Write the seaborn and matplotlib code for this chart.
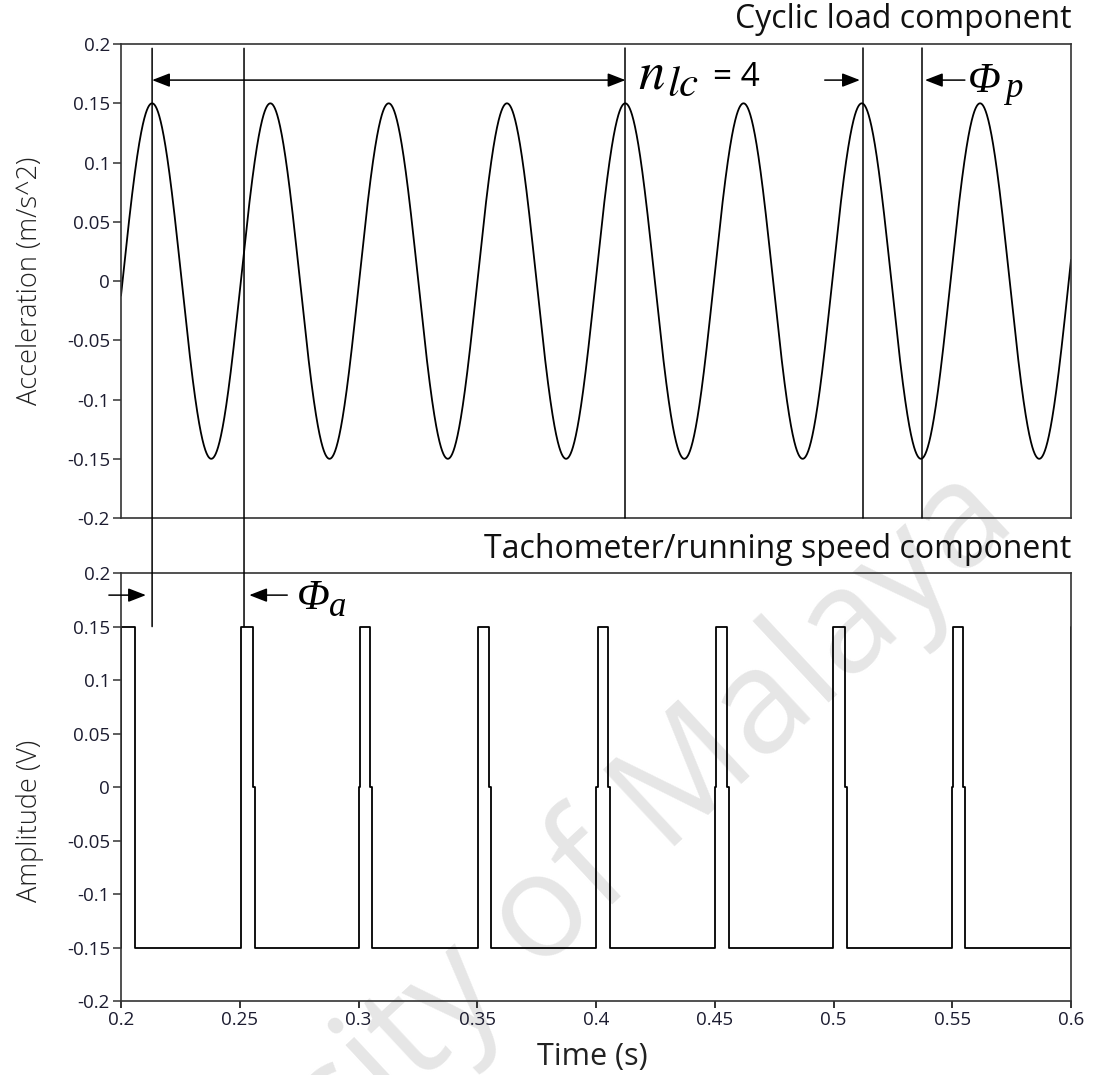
import numpy as np
import matplotlib
matplotlib.use("Agg")
import matplotlib.pyplot as plt
from matplotlib.patches import ConnectionPatch
import seaborn as sns

# ---------------- data ----------------
# Cyclic load component (sinusoid): amplitude, period, time of first peak
load_amplitude = 0.15          # m/s^2
load_period = 0.0498           # s
load_first_peak = 0.2131       # s

# Tachometer pulses (x where the edge steps occur)
pulse_rise_lo = [0.2000, 0.2504, 0.3003, 0.3503, 0.4000, 0.4500, 0.4998, 0.5497, 0.6000]
pulse_rise_hi = [0.2000, 0.2504, 0.3006, 0.3505, 0.4007, 0.4505, 0.4998, 0.5504, 0.6000]
pulse_fall_hi = [0.2058, 0.2555, 0.3050, 0.3550, 0.4051, 0.4550, 0.5047, 0.5546]
pulse_fall_lo = [0.2058, 0.2564, 0.3058, 0.3558, 0.4058, 0.4558, 0.5056, 0.5555]
pulse_low, pulse_mid, pulse_high = -0.15, 0.0, 0.15

# annotation line positions (s)
phase_a_lines = [0.2131, 0.2518]
top_lines = [0.4124, 0.5125, 0.5371]

y_ticks = [0.2, 0.15, 0.1, 0.05, 0, -0.05, -0.1, -0.15, -0.2]
x_ticks = [0.2, 0.25, 0.3, 0.35, 0.4, 0.45, 0.5, 0.55, 0.6]

# ---------------- build series ----------------
t = np.linspace(0.2, 0.6, 4001)
acc = load_amplitude * np.cos(2 * np.pi * (t - load_first_peak) / load_period)

px, py = [], []
for i in range(len(pulse_rise_lo)):
    px += [pulse_rise_lo[i], pulse_rise_lo[i], pulse_rise_hi[i], pulse_rise_hi[i]]
    py += [pulse_low, pulse_mid, pulse_mid, pulse_high]
    if i < len(pulse_fall_hi):
        px += [pulse_fall_hi[i], pulse_fall_hi[i], pulse_fall_lo[i], pulse_fall_lo[i]]
        py += [pulse_high, pulse_mid, pulse_mid, pulse_low]

# ---------------- style ----------------
sns.set_theme(style="white")
plt.rcParams["font.family"] = ["Open Sans", "DejaVu Sans"]
plt.rcParams["mathtext.fontset"] = "stix"
plt.rcParams["axes.unicode_minus"] = False

fig = plt.figure(figsize=(10.93, 10.75), dpi=100)
ax1 = fig.add_axes([0.1107, 0.5181, 0.8692, 0.4409])
ax2 = fig.add_axes([0.1107, 0.0688, 0.8692, 0.3981])

sns.lineplot(x=t, y=acc, ax=ax1, color="black", lw=1.3, estimator=None, sort=False)
sns.lineplot(x=px, y=py, ax=ax2, color="black", lw=1.3, estimator=None, sort=False)

tick_color = "#1c1c30"
for ax in (ax1, ax2):
    ax.set_facecolor("none")
    ax.set_xlim(0.2, 0.6)
    ax.set_ylim(-0.2, 0.2)
    ax.set_yticks(y_ticks)
    ax.set_yticklabels(["{:g}".format(v) for v in y_ticks])
    for s in ax.spines.values():
        s.set_color("#333333")
        s.set_linewidth(1.2)
    ax.tick_params(axis="y", direction="out", length=6, width=1.1, color="#333333",
                   labelsize=13.5, labelcolor=tick_color, pad=2, left=True)
    ax.set_ylabel("")

ax1.set_xticks([])
ax1.set_xlabel("")
ax2.set_xticks(x_ticks)
ax2.set_xticklabels(["{:g}".format(v) for v in x_ticks])
ax2.tick_params(axis="x", direction="out", length=5, width=1.4, color="#333333",
                labelsize=13.5, labelcolor=tick_color, pad=2, bottom=True)

ax1.set_ylabel("Acceleration (m/s^2)", fontsize=19.5, fontweight="light", color="#222222",
               va="center", ha="center")
ax1.yaxis.set_label_coords(-0.096, 0.5)
ax2.set_ylabel("Amplitude (V)", fontsize=19.5, fontweight="light", color="#222222",
               va="center", ha="center")
ax2.yaxis.set_label_coords(-0.096, 0.42)
ax2.set_xlabel("Time (s)", fontsize=22, color="#222222", va="center", ha="center")
ax2.xaxis.set_label_coords(0.496, -0.131)

ax1.text(1.0, 1.051, "Cyclic load component", transform=ax1.transAxes,
         ha="right", va="center", fontsize=23, color="#111111")
ax2.text(1.0, 1.056, "Tachometer/running speed component", transform=ax2.transAxes,
         ha="right", va="center", fontsize=23, color="#111111")

# vertical reference lines
for x in phase_a_lines:
    con = ConnectionPatch(xyA=(x, 0.1964), coordsA=ax1.transData,
                          xyB=(x, 0.15), coordsB=ax2.transData,
                          color="black", lw=1.1, zorder=5)
    fig.add_artist(con)
for x in top_lines:
    ax1.plot([x, x], [0.1964, -0.2], color="black", lw=1.1, clip_on=False, zorder=5)

arrow_kw = dict(arrowstyle="-|>,head_length=0.9,head_width=0.35", color="black", lw=1.1,
                shrinkA=0, shrinkB=0)
dbl_kw = dict(arrowstyle="<|-|>,head_length=0.9,head_width=0.35", color="black", lw=1.1,
              shrinkA=0, shrinkB=0)

greek = dict(family="Liberation Serif", style="italic", color="black")
sym = dict(family="STIXGeneral", style="italic", color="black")

ya = 0.1696
ax1.annotate("", xy=(0.4124, ya), xytext=(0.2131, ya), arrowprops=dbl_kw)
ax1.annotate("", xy=(0.5111, ya), xytext=(0.4963, ya), arrowprops=arrow_kw)
ax1.annotate("", xy=(0.5385, ya), xytext=(0.5553, ya), arrowprops=arrow_kw)
ax1.text(0.4180, ya + 0.004, "n", fontsize=38, ha="left", va="center", **sym)
ax1.text(0.4298, ya - 0.005, "lc", fontsize=31, ha="left", va="center", **sym)
ax1.text(0.4493, ya + 0.002, "= 4", fontsize=24, ha="left", va="center", color="black")
ax1.text(0.5566, ya - 0.001, "Φ", fontsize=31, ha="left", va="center", **greek)
ax1.text(0.5722, ya - 0.007, "p", fontsize=25, ha="left", va="center", **greek)

yb = 0.1794
ax2.annotate("", xy=(0.2105, yb), xytext=(0.1949, yb), arrowprops=arrow_kw,
             annotation_clip=False)
ax2.annotate("", xy=(0.2540, yb), xytext=(0.2700, yb), arrowprops=arrow_kw)
ax2.text(0.2742, yb - 0.003, "Φ", fontsize=31, ha="left", va="center", **greek)
ax2.text(0.2876, yb - 0.012, "a", fontsize=25, ha="left", va="center", **greek)

# faint watermark
fig.text(0.933, 0.5116, "University of Malaya", rotation=43, rotation_mode="anchor",
         ha="right", va="baseline", fontsize=105, color="#e6e6e6", zorder=-1)

fig.savefig("out.png", dpi=100)
